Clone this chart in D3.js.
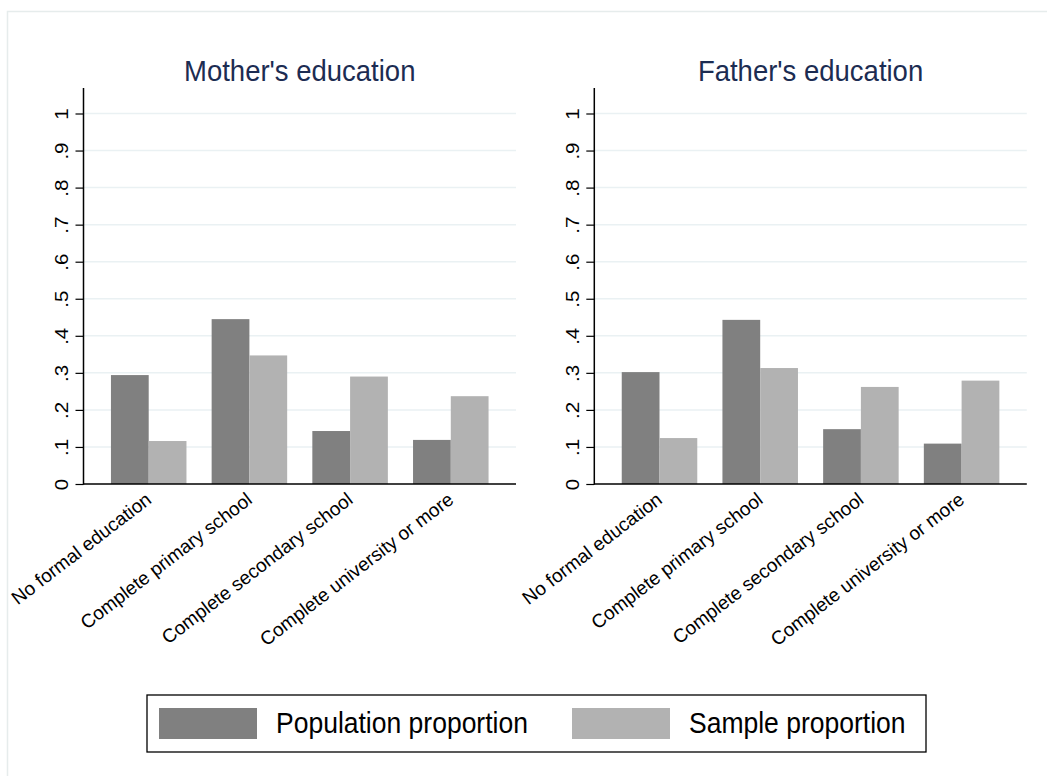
<!DOCTYPE html>
<html>
<head>
<meta charset="utf-8">
<script src="https://cdn.jsdelivr.net/npm/d3@7"></script>
<style>
  html, body { margin: 0; padding: 0; background: #fff; }
  svg { display: block; }
  text { font-family: "Liberation Sans", Arial, Helvetica, sans-serif; }
</style>
</head>
<body>
<div id="chart"></div>
<script>
// Education categories shown on the x axis
const categories = [
  "No formal education",
  "Complete primary school",
  "Complete secondary school",
  "Complete university or more"
];
const seriesNames = ["Population proportion", "Sample proportion"];
const seriesColors = ["#808080", "#b2b2b2"];

// Mother's education: population vs sample shares
const motherPopulation = [0.294, 0.445, 0.143, 0.119];
const motherSample     = [0.116, 0.347, 0.290, 0.237];

// Father's education: population vs sample shares
const fatherPopulation = [0.302, 0.443, 0.148, 0.109];
const fatherSample     = [0.124, 0.313, 0.262, 0.279];

const yTicks = [0, 0.1, 0.2, 0.3, 0.4, 0.5, 0.6, 0.7, 0.8, 0.9, 1];
const yTickLabels = ["0", ".1", ".2", ".3", ".4", ".5", ".6", ".7", ".8", ".9", "1"];

const panels = [
  { title: "Mother's education", values: [motherPopulation, motherSample], x0: 83.5 },
  { title: "Father's education", values: [fatherPopulation, fatherSample], x0: 594.3 }
];

const W = 1047, H = 776;
const svg = d3.select("#chart").append("svg")
  .attr("width", W).attr("height", H);

// outer graph frame
svg.append("rect")
  .attr("x", 7.5).attr("y", 11.5)
  .attr("width", W + 20).attr("height", H + 20)
  .attr("fill", "#fff")
  .attr("stroke", "#e6ecec").attr("stroke-width", 1.5);

const plotW = 432.5;
const yTop = 88, yBase = 484;
const y = d3.scaleLinear().domain([0, 1]).range([yBase, 113.5]);
// text is drawn slightly taller than wide
const stretch = 1.08;

panels.forEach(p => {
  const g = svg.append("g");
  const x = d3.scaleBand().domain(categories)
    .range([p.x0, p.x0 + plotW])
    .paddingInner(0.25).paddingOuter(0.2725);
  const xs = d3.scaleBand().domain(d3.range(seriesNames.length))
    .range([0, x.bandwidth()]);

  // horizontal gridlines
  g.append("g").selectAll("line")
    .data(yTicks.filter(t => t > 0))
    .join("line")
    .attr("x1", p.x0).attr("x2", p.x0 + plotW)
    .attr("y1", d => y(d)).attr("y2", d => y(d))
    .attr("stroke", "#eaf1f3").attr("stroke-width", 1.5);

  // bars
  seriesNames.forEach((s, si) => {
    g.append("g").selectAll("rect")
      .data(categories)
      .join("rect")
      .attr("x", (c) => x(c) + xs(si))
      .attr("y", (c, i) => y(p.values[si][i]))
      .attr("width", xs.bandwidth())
      .attr("height", (c, i) => y(0) - y(p.values[si][i]))
      .attr("fill", seriesColors[si]);
  });

  // y axis
  const yAxis = d3.axisLeft(y)
    .tickValues(yTicks)
    .tickFormat((d, i) => yTickLabels[i])
    .tickSize(8).tickPadding(4);
  const ya = g.append("g")
    .attr("transform", `translate(${p.x0},0)`)
    .call(yAxis);
  ya.select(".domain").remove();
  ya.selectAll(".tick line").attr("stroke", "#000").attr("stroke-width", 1.2);
  ya.selectAll(".tick text")
    .attr("font-size", 19).attr("fill", "#000")
    .attr("text-anchor", "middle")
    .attr("x", 0).attr("dy", 0)
    .attr("transform", `translate(-22,0) rotate(-90) scale(${stretch},1)`)
    .attr("dominant-baseline", "central");
  g.append("line")
    .attr("x1", p.x0).attr("x2", p.x0)
    .attr("y1", yTop).attr("y2", yBase + 0.7)
    .attr("stroke", "#000").attr("stroke-width", 1.5);

  // x axis
  const xAxis = d3.axisBottom(x).tickSize(0).tickPadding(0);
  const xa = g.append("g")
    .attr("transform", `translate(0,${yBase})`)
    .call(xAxis);
  xa.select(".domain").remove();
  xa.selectAll(".tick text")
    .attr("font-size", 19).attr("fill", "#000")
    .attr("text-anchor", "end")
    .attr("y", 0).attr("dy", 0)
    .attr("transform", "translate(4,18) rotate(-37.5)");
  g.append("line")
    .attr("x1", p.x0).attr("x2", p.x0 + plotW)
    .attr("y1", yBase).attr("y2", yBase)
    .attr("stroke", "#000").attr("stroke-width", 1.5);

  // panel title
  g.append("text")
    .attr("transform", `translate(${p.x0 + plotW / 2},81) scale(1,${stretch})`)
    .attr("text-anchor", "middle")
    .attr("font-size", 27.5)
    .attr("fill", "#1c2c52")
    .text(p.title);
});

// legend
const leg = svg.append("g");
leg.append("rect")
  .attr("x", 147).attr("y", 695)
  .attr("width", 779).attr("height", 57)
  .attr("fill", "#fff").attr("stroke", "#000").attr("stroke-width", 1.3);
const legX = [159, 572];
seriesNames.forEach((s, i) => {
  leg.append("rect")
    .attr("x", legX[i]).attr("y", 708)
    .attr("width", 98).attr("height", 31)
    .attr("fill", seriesColors[i]);
  leg.append("text")
    .attr("transform", `translate(${legX[i] + 117},733) scale(1,${stretch})`)
    .attr("font-size", 26.5).attr("fill", "#000")
    .text(s);
});
</script>
</body>
</html>
